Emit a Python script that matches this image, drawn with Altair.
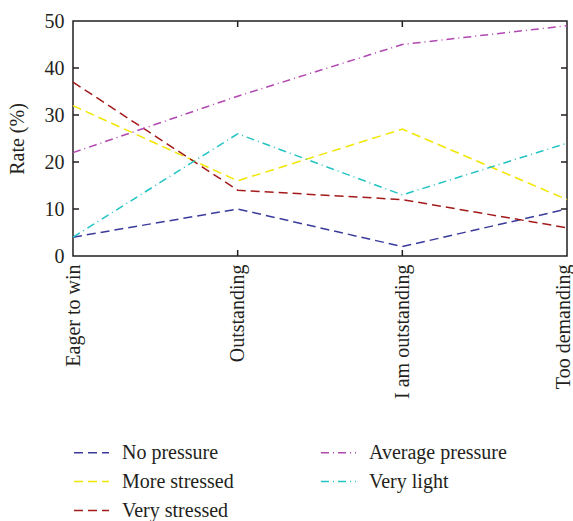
import altair as alt
import pandas as pd

categories = ["Eager to win", "Outstanding", "I am outstanding", "Too demanding"]
no_pressure = [4, 10, 2, 10]
more_stressed = [32, 16, 27, 12]
very_stressed = [37, 14, 12, 6]
average_pressure = [22, 34, 45, 49]
very_light = [4, 26, 13, 24]

series_names = ["No pressure", "More stressed", "Very stressed", "Average pressure", "Very light"]
series_values = [no_pressure, more_stressed, very_stressed, average_pressure, very_light]
colors = ["#3a3a9c", "#f2e600", "#a31a1a", "#b048b0", "#22c4c4"]
dashes = [[9, 5], [9, 5], [9, 5], [8, 4, 1, 4], [8, 4, 1, 4]]
y_ticks = [10, 20, 30, 40]
x_inner_ticks = ["Outstanding", "I am outstanding"]

rows = []
for name, vals in zip(series_names, series_values):
    for c, v in zip(categories, vals):
        rows.append({"cat": c, "value": v, "series": name})
df = pd.DataFrame(rows)

W, H = 494, 235
FONT = "Liberation Serif, DejaVu Serif, serif"
FS = 20
TXT = "#231f20"

xscale = alt.Scale(type="point", padding=0, domain=categories)
yscale = alt.Scale(domain=[0, 50], nice=False)

leg = alt.Legend(
    title=None, orient="none", legendX=0, legendY=413, columns=2,
    columnPadding=84, rowPadding=-7, labelOffset=12, symbolType="stroke",
    symbolSize=1225, symbolStrokeWidth=1.5, labelFont=FONT, labelFontSize=FS,
    labelColor=TXT, padding=0,
)

lines = alt.Chart(df).mark_line(strokeWidth=1.5).encode(
    x=alt.X("cat:N", scale=xscale, sort=categories,
            axis=alt.Axis(title=None, labelAngle=-90, labelAlign="right",
                          labelBaseline="middle", labelPadding=8,
                          labelOffset=alt.ExprRef(expr="datum.value == 'Too demanding' ? -4 : 0"))),
    y=alt.Y("value:Q", scale=yscale,
            axis=alt.Axis(title="Rate (%)", values=[0, 10, 20, 30, 40, 50],
                          labelPadding=9, titlePadding=17)),
    color=alt.Color("series:N", scale=alt.Scale(domain=series_names, range=colors), legend=leg),
    strokeDash=alt.StrokeDash("series:N", scale=alt.Scale(domain=series_names, range=dashes), legend=leg),
)

yt = pd.DataFrame({"value": y_ticks})
xt = pd.DataFrame({"cat": x_inner_ticks})

left_ticks = alt.Chart(yt).mark_rule(color=TXT, strokeWidth=1.5).encode(
    y=alt.Y("value:Q", scale=yscale), x=alt.value(0), x2=alt.value(6))
right_ticks = alt.Chart(yt).mark_rule(color=TXT, strokeWidth=1.5).encode(
    y=alt.Y("value:Q", scale=yscale), x=alt.value(W - 6), x2=alt.value(W))
bottom_ticks = alt.Chart(xt).mark_rule(color=TXT, strokeWidth=1.5).encode(
    x=alt.X("cat:N", scale=xscale, sort=categories), y=alt.value(H - 6), y2=alt.value(H))
top_ticks = alt.Chart(xt).mark_rule(color=TXT, strokeWidth=1.5).encode(
    x=alt.X("cat:N", scale=xscale, sort=categories), y=alt.value(0), y2=alt.value(6))

chart = alt.layer(lines, left_ticks, right_ticks, bottom_ticks, top_ticks).properties(
    width=W, height=H,
    autosize=alt.AutoSizeParams(type="none"),
    padding={"left": 73, "top": 21, "right": 6, "bottom": 265},
).configure_view(
    stroke=TXT, strokeWidth=1.5
).configure_axis(
    labelFont=FONT, labelFontSize=FS, labelColor=TXT, titleFont=FONT,
    titleFontSize=FS, titleFontWeight="normal", titleColor=TXT,
    ticks=False, domain=False, grid=False,
)

chart.save("out.html", embed_options={"renderer": "svg", "actions": False})
